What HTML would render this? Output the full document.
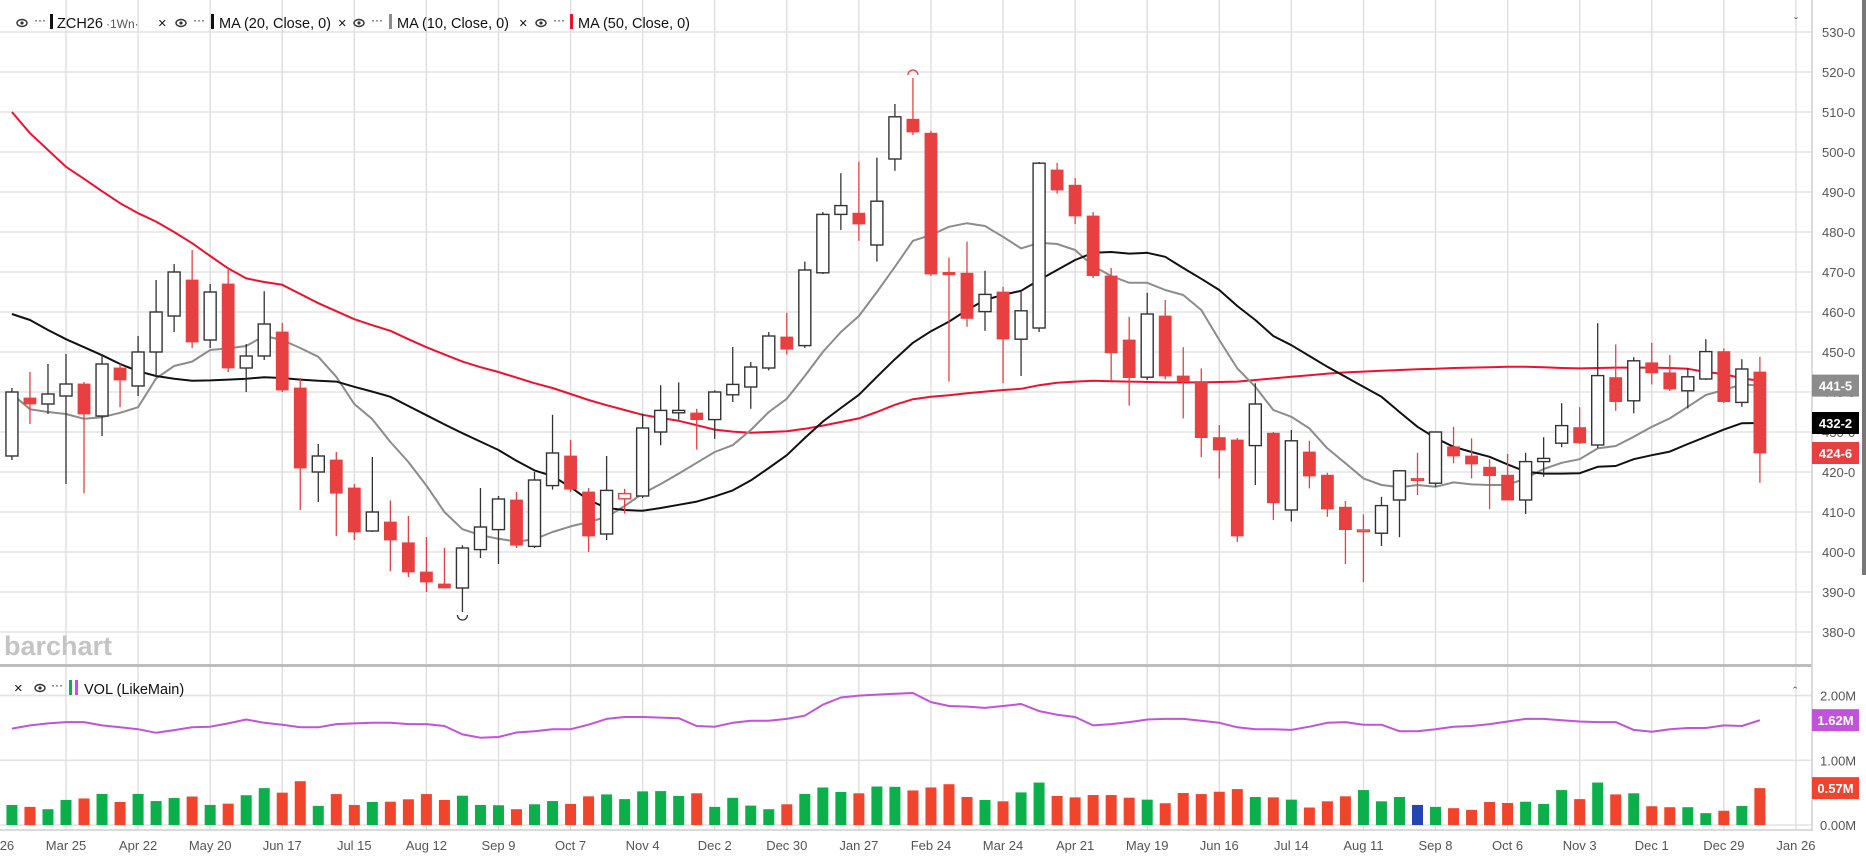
<!DOCTYPE html>
<html><head><meta charset="utf-8"><title>ZCH26 weekly chart</title>
<style>
html,body{margin:0;padding:0;background:#fff;}
svg{display:block;font-family:"Liberation Sans",sans-serif;}
</style></head>
<body>
<svg id="chart" xmlns="http://www.w3.org/2000/svg" width="1866" height="859" viewBox="0 0 1866 859">
  <rect x="0" y="0" width="1866" height="859" fill="#fff"/>
  <g id="grid"></g>
  <text x="4" y="655" font-size="27" font-weight="bold" fill="#c4c4c4">barchart</text>
  <g id="volpane"></g>
  <g id="pricepane"></g>
  <g id="axes"></g>
  <g font-size="14.5" fill="#111">
    <g>
      <ellipse cx="22" cy="23" rx="5" ry="3.5" fill="none" stroke="#333" stroke-width="1.4"/><circle cx="22" cy="23" r="1.6" fill="#333"/>
      <text x="34" y="24" font-size="12">···</text>
      <rect x="50" y="14" width="3" height="15" fill="#111"/>
      <text x="57" y="28">ZCH26</text>
      <text x="106" y="28" font-size="12" fill="#555">·1Wn·</text>
    </g>
    <text x="158" y="28">×</text>
    <g>
      <ellipse cx="181" cy="23" rx="5" ry="3.5" fill="none" stroke="#333" stroke-width="1.4"/><circle cx="181" cy="23" r="1.6" fill="#333"/>
      <text x="193" y="24" font-size="12">···</text>
      <rect x="211" y="14" width="3" height="15" fill="#111"/>
      <text x="219" y="28">MA (20, Close, 0)</text>
    </g>
    <text x="338" y="28">×</text>
    <g>
      <ellipse cx="359" cy="23" rx="5" ry="3.5" fill="none" stroke="#333" stroke-width="1.4"/><circle cx="359" cy="23" r="1.6" fill="#333"/>
      <text x="371" y="24" font-size="12">···</text>
      <rect x="389" y="14" width="3" height="15" fill="#8c8c8c"/>
      <text x="397" y="28">MA (10, Close, 0)</text>
    </g>
    <text x="519" y="28">×</text>
    <g>
      <ellipse cx="541" cy="23" rx="5" ry="3.5" fill="none" stroke="#333" stroke-width="1.4"/><circle cx="541" cy="23" r="1.6" fill="#333"/>
      <text x="553" y="24" font-size="12">···</text>
      <rect x="570" y="14" width="3" height="15" fill="#f0102e"/>
      <text x="578" y="28">MA (50, Close, 0)</text>
    </g>
  </g>
  <text x="1794" y="26" font-size="12" fill="#555">ˇ</text>
  <g font-size="14.5" fill="#111">
    <text x="14" y="693">×</text>
    <ellipse cx="40" cy="688" rx="5" ry="3.5" fill="none" stroke="#333" stroke-width="1.4"/><circle cx="40" cy="688" r="1.6" fill="#333"/>
    <text x="51" y="689" font-size="12">···</text>
    <rect x="69" y="680" width="3" height="15" fill="#0cb04a"/>
    <rect x="75" y="680" width="3" height="15" fill="#c252db"/>
    <text x="84" y="694">VOL (LikeMain)</text>
  </g>
  <text x="1793" y="696" font-size="13" fill="#555">ˆ</text>
</svg>
<script>
const firstWeek = -3;
const opens  = [424,438.5,437,439,442,434,446,441.5,450,459,468,453,467,446,449,455,441,420,423,416,405.25,407.5,402.3,395,392,391,400.6,405.6,413,401.4,416.6,424,415,404.5,413.3,414,430,434.8,434.75,433.1,439.3,441.25,446,453.75,451.6,469.8,484.4,484.7,476.75,498.25,508.2,504.7,469.9,469.7,460.1,465,453.2,456,495.5,491.7,484,469,453,443.7,459,444,442.6,428.6,428,426.6,429.7,410.5,425,419.2,411.2,405.1,404.7,413,418,417.2,426.3,424,421.2,419.2,413,422.6,427.2,431.1,426.75,443.6,437.8,447.3,444.8,440.3,443.25,450.1,437.4,445];
const highs  = [441,445,447,449.5,442.5,449.5,447,454,468,472,475.5,467,471,452,465.2,457.3,443.5,427,425,417,423.75,412.9,409,403.75,401,401.7,416,414,415,420,434.3,428,416,424,415.8,434.6,441.7,442.4,435.8,440.4,451.25,447.5,455,459.8,472.6,485,494.7,497.6,498.6,512,518.5,505.3,473.6,477.6,470.3,466.3,465,497.5,497.3,493.5,485,471,458.8,464.8,463,451.2,445.9,431.75,428.5,442.2,430,430.5,427.8,419.8,412.75,409.4,413.8,420.5,424.8,430,431.3,428.4,423.2,424.5,424.8,428.7,437.2,436.2,457.2,451.9,448.7,452.3,449.25,445.9,453.2,450.9,448.2,448.8];
const lows   = [423,432,434.5,417,414.7,429,436.2,439,444,455,451,451,445,440,448,440,410.5,412.5,404,403,405,395.2,393.75,390,391,385,398.5,397,401,401,415.6,415,400,403,409.6,413.5,426.7,433.1,425.6,428.3,437.5,435.8,445.4,449.4,451,469.5,480.5,477.8,472.6,495.3,504.25,469,442.6,456.3,455.3,442.2,444,455,489.6,482,468.5,442.8,436.6,443,443.2,433.4,423.7,418.4,402.5,416.75,408,407.6,415.9,408.8,397,392.5,401.5,403.7,414.25,416.3,422.2,418.4,410.7,413,409.5,418.8,426.2,427,426,435.3,434.7,441.9,440.25,435.9,443,437.2,436.3,417.3];
const closes = [440,437,439.5,442,434.5,447,443,450,460,470,452.5,465,446,449,457,440.5,421,424,414.7,405,410,403,395,392.5,391,401,406.25,413.25,401.7,418,424.75,415.7,404,415.4,414.6,431,435.4,435.4,433.1,440,441.9,446.25,454,450.7,470.5,484.4,486.6,482,487.7,508.8,505,469.5,469.3,458.4,464.4,453.25,460.3,497.2,490.5,484,469.1,449.8,443.6,459.5,444,442.6,428.6,425.5,404,437,412.3,427.8,419,410.75,405.6,405.5,411.6,420.3,418.3,430,424,422,419.1,413,422.6,423.4,431.6,427.3,444.1,437.6,447.8,444.8,440.75,443.8,450.1,437.6,445.75,424.75];
const ma10 = [439.5,435.7,435,434.5,433.3,433.7,434.8,436.2,443.4,446.5,447.6,450.5,450.9,451.5,454,453,451,448.8,443.8,437,433.2,427.5,422.5,416.6,410,405.7,404.2,403.3,402.6,403.2,405,406.4,407.5,408.75,411.5,414.6,417,419.6,422.3,425,426.7,430.5,435,438.3,444,450,455,459,465,471.3,477.8,479.25,481.3,482.2,481.5,478.8,475.9,477.3,477,475.5,471.5,469,467.3,467.3,465.5,464.25,460.5,453,445.9,441.3,435.5,433.8,430.9,425.9,422.2,418.4,416.75,416.2,416.75,416.3,417.4,416.9,416.75,416.75,418.4,420.75,422.3,423.2,425.9,426.5,428.8,431.3,433.4,436.3,439.25,440.5,441.9,441.6];
const ma20 = [459.5,458,455.5,453.2,451.2,449.2,447,445.2,444,443.3,442.8,442.9,443.1,443.3,443.7,443.5,443.1,442.8,442.6,441.3,440.1,438.8,436.5,434.2,431.9,429.7,427.6,425.5,422.8,420.4,419,416.2,413,411,410.5,410.3,411,411.8,412.6,413.9,415.4,417.9,421,424.2,428.5,432.6,436,439.3,443.8,448.2,452.3,455.2,457.6,460.5,463,464.3,465.3,468,470.5,473,474.8,475,474.6,474.8,473.8,471,468.3,465.5,461.5,458,454,451.7,449,446.3,443.8,441.3,438.8,435,431.3,428.5,426.3,425,423.8,421.9,420.1,419.6,419.6,419.7,421.3,421.5,423.2,424.2,425.1,427,428.8,430.6,432.2,432.25];
const ma50 = [510,504.7,500.5,496.3,493.3,490.2,487.2,484.7,482.6,480,477.2,474,470.9,468.4,467.5,466.8,464.5,462.2,460.2,458.2,456.7,455.3,453.2,451.2,449.4,447.6,446.2,445,443.6,442.2,441,439.5,438,436.7,435.5,434.3,433.5,432.8,431.7,430.6,430.1,429.8,430,430.2,430.8,431.6,432.5,433.4,435,436.8,438.2,438.8,439.2,439.7,440.1,440.5,440.8,441.7,442.3,442.6,442.8,442.7,442.6,442.5,442.4,442.4,442.4,442.5,442.6,443,443.4,443.8,444.2,444.6,444.9,445.1,445.3,445.5,445.7,445.8,446,446.1,446.2,446.3,446.3,446.2,446,445.9,446,446.1,446.1,446.1,446,445.8,445,444.5,443.4,442.8];
const volumes = [0.31,0.28,0.244,0.387,0.41,0.48,0.356,0.48,0.37,0.417,0.44,0.31,0.33,0.46,0.57,0.50,0.677,0.295,0.478,0.31,0.356,0.36,0.397,0.478,0.387,0.453,0.31,0.305,0.244,0.32,0.37,0.326,0.443,0.473,0.40,0.52,0.524,0.448,0.49,0.28,0.42,0.30,0.244,0.32,0.48,0.58,0.51,0.49,0.595,0.59,0.534,0.58,0.63,0.433,0.387,0.366,0.504,0.656,0.448,0.427,0.463,0.463,0.422,0.392,0.336,0.494,0.478,0.514,0.555,0.433,0.427,0.392,0.27,0.366,0.443,0.54,0.366,0.433,0.31,0.28,0.26,0.234,0.356,0.34,0.36,0.326,0.54,0.40,0.656,0.473,0.49,0.29,0.275,0.275,0.183,0.22,0.295,0.57];
const volMa = [1.49,1.54,1.57,1.59,1.59,1.54,1.51,1.48,1.425,1.466,1.51,1.52,1.57,1.63,1.58,1.55,1.51,1.51,1.56,1.57,1.58,1.58,1.56,1.56,1.53,1.40,1.35,1.36,1.43,1.45,1.48,1.48,1.55,1.64,1.67,1.67,1.66,1.65,1.53,1.52,1.58,1.61,1.61,1.64,1.69,1.86,1.97,2.0,2.015,2.03,2.04,1.90,1.84,1.83,1.81,1.84,1.87,1.76,1.705,1.67,1.54,1.56,1.59,1.63,1.64,1.64,1.61,1.58,1.51,1.48,1.48,1.47,1.52,1.58,1.59,1.55,1.55,1.45,1.45,1.48,1.52,1.53,1.56,1.60,1.64,1.64,1.62,1.60,1.59,1.59,1.47,1.44,1.48,1.50,1.50,1.54,1.53,1.62];
const dateLabels = ["Feb 26","Mar 25","Apr 22","May 20","Jun 17","Jul 15","Aug 12","Sep 9","Oct 7","Nov 4","Dec 2","Dec 30","Jan 27","Feb 24","Mar 24","Apr 21","May 19","Jun 16","Jul 14","Aug 11","Sep 8","Oct 6","Nov 3","Dec 1","Dec 29","Jan 26"];
const priceTicks = [530,520,510,500,490,480,470,460,450,440,430,420,410,400,390,380];
const volTicks = [2,1,0];

const NS = "http://www.w3.org/2000/svg";
function X(week){ return 66 + week*18.02; }
function Y(p){ return 32 + (530 - p)*4.0; }
function VY(v){ return 825 - v*64.7; }
function mk(tag, attrs, parent){ const e=document.createElementNS(NS,tag); for(const k in attrs) e.setAttribute(k,attrs[k]); parent.appendChild(e); return e; }
function fmtPrice(p){ const i=Math.floor(p); const f=Math.round((p-i)*8); return i+"-"+f; }

const grid=document.getElementById('grid'), price=document.getElementById('pricepane'), vol=document.getElementById('volpane'), axes=document.getElementById('axes');

priceTicks.forEach(t=>{
  const l=mk('line',{x1:0,x2:1812,y1:Y(t),y2:Y(t),stroke:'#e3e3e3','stroke-width':1.6},grid);
  
  
  const tx=mk('text',{x:1822,y:Y(t)+5,'font-size':13,fill:'#555'},axes);
  tx.textContent=t+"-0";
  
  
});
volTicks.forEach(t=>{
  const l=mk('line',{x1:0,x2:1812,y1:VY(t),y2:VY(t),stroke:'#e3e3e3','stroke-width':1.6},grid);
  
  
  const tx=mk('text',{x:1820,y:VY(t)+5,'font-size':13,fill:'#555'},axes);
  tx.textContent=t.toFixed(2)+"M";
  
  
});
dateLabels.forEach((d,i)=>{
  const w=-4+i*4;
  const l=mk('line',{x1:X(w),x2:X(w),y1:0,y2:830,stroke:'#dcdcdc','stroke-width':1.3},grid);
  
  
  const tx=mk('text',{x:X(w),y:850,'font-size':13,fill:'#555','text-anchor':'middle'},axes);
  tx.textContent=d;
  
  
});
let s=mk('rect',{x:0,y:664,width:1812,height:3,fill:'#bdbdbd'},axes);


s=mk('line',{x1:1812,x2:1812,y1:0,y2:831,stroke:'#cfcfcf','stroke-width':1.5},axes);


s=mk('line',{x1:0,x2:1812,y1:830,y2:830,stroke:'#cfcfcf','stroke-width':1.5},axes);


s=mk('rect',{x:1862,y:0,width:4,height:575,fill:'#777'},axes);



function line(arr, yf, color, name, width){
  const pts=arr.map((v,i)=>X(firstWeek+i).toFixed(1)+","+yf(v).toFixed(1)).join(" ");
  const pl=mk('polyline',{points:pts,fill:'none',stroke:color,'stroke-width':width,'stroke-linejoin':'round'},name.startsWith('vol')?vol:price);
  
  
}
line(ma50,Y,'#f0102e','ma50-line',2);
line(ma10,Y,'#8c8c8c','ma10-line',2);
line(ma20,Y,'#111','ma20-line',2);

closes.forEach((c,i)=>{
  const o=opens[i], h=highs[i], l=lows[i], x=X(firstWeek+i);
  const prev = i>0 ? closes[i-1] : o;
  const col = c<prev ? '#e84040' : '#333';
  const filled = c<o;
  const g=mk('g',{},price);
  
  
  mk('line',{x1:x,x2:x,y1:Y(h),y2:Y(l),stroke:col,'stroke-width':1.3},g);
  const top=Y(Math.max(o,c)), bot=Y(Math.min(o,c));
  mk('rect',{x:x-6,y:top,width:12,height:Math.max(bot-top,1.5),fill:filled?col:'#fff',stroke:col,'stroke-width':filled?0.8:1.4},g);
});
(function(){
  let hi=0, lo=0;
  highs.forEach((v,i)=>{ if(v>highs[hi]) hi=i; });
  lows.forEach((v,i)=>{ if(v<lows[lo]) lo=i; });
  const a=mk('path',{d:`M ${X(firstWeek+hi)-5} ${Y(highs[hi])-3} a 5 5 0 0 1 10 0`,fill:'none',stroke:'#e84040','stroke-width':1.3},price);
  
  
  const b=mk('path',{d:`M ${X(firstWeek+lo)-5} ${Y(lows[lo])+3} a 5 5 0 0 0 10 0`,fill:'none',stroke:'#333','stroke-width':1.3},price);
  
  
})();

volumes.forEach((v,i)=>{
  const o=opens[i], c=closes[i], x=X(firstWeek+i);
  const col = Math.abs(c-o)<0.35 ? '#2344b5' : (c>o ? '#0cb04a' : '#f0442c');
  const r=mk('rect',{x:x-5.5,y:VY(v),width:11,height:VY(0)-VY(v),fill:col},vol);
  
  
});
line(volMa,VY,'#c252db','vol-ma-line',2);

function tag(y,txt,bg,name,fg){
  const g=mk('g',{},axes);
  
  
  mk('rect',{x:1812,y:y-11,width:47,height:22,fill:bg},g);
  const t=mk('text',{x:1835.5,y:y+5,'font-size':13,'font-weight':'bold',fill:fg||'#fff','text-anchor':'middle'},g);
  t.textContent=txt;
}
const n=closes.length-1;
mk('rect',{x:1812,y:Y(ma50[n])-2,width:47,height:2,fill:'#f0102e'},axes);
tag(Y(ma10[n]),fmtPrice(ma10[n]),'#8c8c8c','ma10-value-label');
tag(Y(ma20[n]),fmtPrice(ma20[n]),'#000','ma20-value-label');
tag(Y(closes[n]),fmtPrice(closes[n]),'#e84040','last-price-label');
tag(VY(volMa[n]),volMa[n].toFixed(2)+"M",'#c252db','vol-ma-value-label');
tag(VY(volumes[n]),volumes[n].toFixed(2)+"M",'#f0442c','last-volume-label');
</script>
</body></html>
